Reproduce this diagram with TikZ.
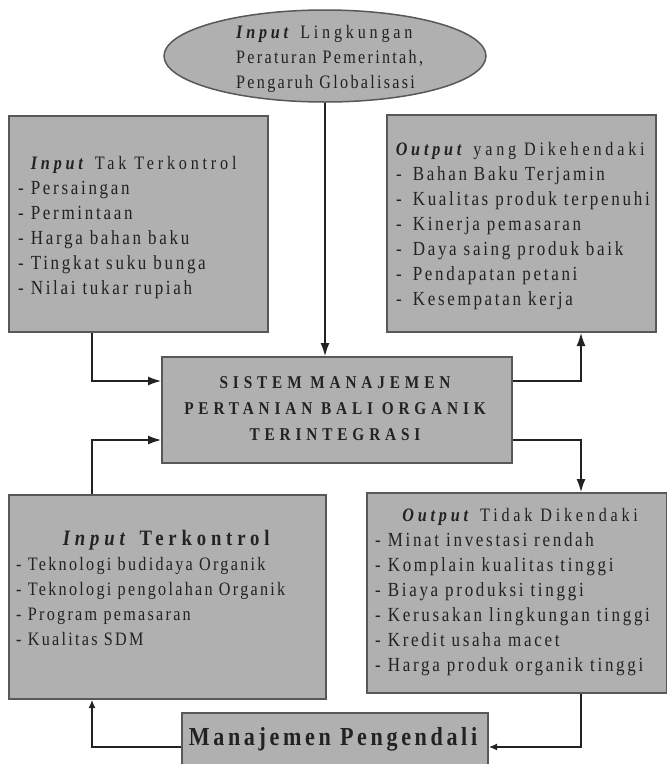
\documentclass[tikz,border=0pt]{standalone}
\usepackage{fontspec}
\usepackage{tikz}
\usetikzlibrary{arrows.meta,shapes.geometric}
\setmainfont{Liberation Serif}
\newfontfamily\plainfont[LetterSpace=12,FakeStretch=0.85]{Liberation Serif}
\newfontfamily\listfont[LetterSpace=13.5,FakeStretch=0.85]{Liberation Serif}
\newfontfamily\headfont[LetterSpace=20,FakeStretch=0.85]{Liberation Serif}
\newfontfamily\widefont[LetterSpace=27,FakeStretch=0.85]{Liberation Serif}
\definecolor{panelgray}{RGB}{176,176,176}
\definecolor{edgegray}{RGB}{88,88,88}
\definecolor{inkgray}{RGB}{34,34,34}
\newcommand{\inp}{\textbf{\textit{Input}}}
\newcommand{\outp}{\textbf{\textit{Output}}}
\newcommand{\headline}[2]{\makebox[#1]{\fontsize{19}{25}\selectfont\headfont #2}}
\tikzset{
  flowarrow/.style={-{Latex[length=13pt,width=9pt]}, line width=1.3pt, draw=inkgray},
  tiparrow/.style={-{Latex[length=8pt,width=7pt]}, line width=1.3pt, draw=inkgray},
  panel/.style={draw=edgegray, line width=2pt, fill=panelgray, inner sep=0pt},
  envshape/.style={draw=edgegray, line width=1.5pt, ellipse, fill=panelgray, minimum width=322pt, minimum height=92pt, inner sep=0pt},
  panetext/.style={inner sep=0pt, align=left, text=inkgray, font=\listfont\fontsize{20}{25}\selectfont},
  plaintext/.style={inner sep=0pt, align=left, text=inkgray, font=\plainfont\fontsize{19}{25}\selectfont},
  systext/.style={inner sep=0pt, align=center, text=inkgray, font=\widefont\bfseries\fontsize{18}{26}\selectfont},
  ctrltext/.style={inner sep=0pt, text=inkgray, font=\plainfont\addfontfeature{LetterSpace=14}\bfseries\fontsize{26}{30}\selectfont}
}

\begin{document}
\begin{tikzpicture}[x=1pt, y=-1pt, >=Latex]
  \useasboundingbox (0,0) rectangle (667,764);
  % environment input on top
  \node[envshape] (env) at (325,56) {};
  \node[plaintext, anchor=west] (envtext) at (236,59) {{\headfont\inp{} Lingkungan}\\ Peraturan Pemerintah,\\ Pengaruh Globalisasi};

  % the four panels and the system
  \node[panel, minimum width=259pt, minimum height=216pt] (tl) at (138.5,224) {};
  \node[panetext, anchor=west] (tltext) at (18,228) {\headline{231pt}{\inp{} Tak Terkontrol}\\
    - Persaingan\\ - Permintaan\\ - Harga bahan baku\\ - Tingkat suku bunga\\ - Nilai tukar rupiah};

  \node[panel, minimum width=269pt, minimum height=217pt] (tr) at (521.5,223.5) {};
  \node[panetext, anchor=west] (trtext) at (396,226) {\headline{248pt}{\outp{} yang Dikehendaki}\\
    -\hspace{4pt} Bahan Baku Terjamin\\ -\hspace{4pt} Kualitas produk terpenuhi\\ -\hspace{4pt} Kinerja pemasaran\\
    -\hspace{4pt} Daya saing produk baik\\ -\hspace{4pt} Pendapatan petani\\ -\hspace{4pt} Kesempatan kerja};

  \node[panel, minimum width=350pt, minimum height=106pt] (sys) at (337,410) {};
  \node[systext] (systxt) at (335,409) {SISTEM MANAJEMEN\\ PERTANIAN BALI ORGANIK\\ TERINTEGRASI};

  \node[panel, minimum width=317pt, minimum height=204pt] (bl) at (167.5,597) {};
  \node[plaintext, anchor=west] (bltext) at (16,588) {\makebox[300pt]{\fontsize{22}{28}\selectfont\headfont\addfontfeature{LetterSpace=22}\bfseries\textit{Input} Terkontrol}\\
    - Teknologi budidaya Organik\\ - Teknologi pengolahan Organik\\ - Program pemasaran\\ - Kualitas SDM};

  \node[panel, minimum width=300pt, minimum height=200pt] (br) at (517,593) {};
  \node[panetext, anchor=west] (brtext) at (375,592) {\headline{290pt}{\outp{} Tidak Dikendaki}\\
    - Minat investasi rendah\\ - Komplain kualitas tinggi\\ - Biaya produksi tinggi\\
    - Kerusakan lingkungan tinggi\\ - Kredit usaha macet\\ - Harga produk organik tinggi};

  \node[panel, minimum width=306pt, minimum height=52pt] (mgr) at (335,739) {};
  \node[ctrltext] (mgrtext) at (333,739) {Manajemen Pengendali};

  % lanes for the connectors
  \coordinate (leftlane) at (92,0);
  \coordinate (rightlane) at (581,0);
  \coordinate (upperlane) at (0,381);
  \coordinate (lowerlane) at (0,440);
  \coordinate (bottomlane) at (0,747);

  \draw[flowarrow] (env.south) -- (env.south |- sys.north);
  \draw[flowarrow] (tl.south -| leftlane) |- (sys.west |- upperlane);
  \draw[flowarrow] (bl.north -| leftlane) |- (sys.west |- lowerlane);
  \draw[flowarrow] (sys.east |- upperlane) -| (tr.south -| rightlane);
  \draw[flowarrow] (sys.east |- lowerlane) -| (br.north -| rightlane);
  \draw[tiparrow] (br.south -| rightlane) |- (mgr.east |- bottomlane);
  \draw[tiparrow] (mgr.west |- bottomlane) -| (bl.south -| leftlane);
\end{tikzpicture}
\end{document}
